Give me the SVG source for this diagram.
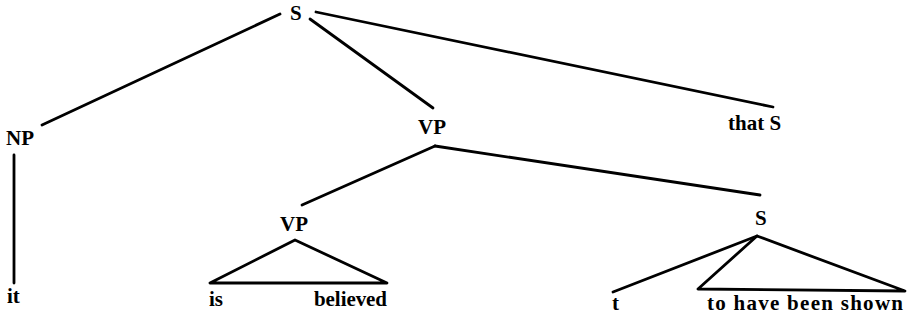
<svg xmlns="http://www.w3.org/2000/svg" width="909" height="320" viewBox="0 0 909 320">
<style>
text{font-family:"Liberation Serif","Times New Roman",serif;font-weight:bold;font-size:21px;fill:#000}
.e{stroke:#000;stroke-width:2.8;fill:none;stroke-linecap:round;stroke-linejoin:round}
</style>
<rect width="909" height="320" fill="#fff"/>
<g id="connectors">
<line class="e" x1="280" y1="14" x2="42" y2="125"/>
<line class="e" x1="310" y1="19" x2="433" y2="108"/>
<line class="e" x1="316" y1="12" x2="773" y2="107"/>
<line class="e" x1="14" y1="155" x2="14" y2="283"/>
<line class="e" x1="435" y1="146" x2="302" y2="205"/>
<line class="e" x1="435" y1="146" x2="760" y2="195"/>
<polygon class="e" points="295,240 210,283 387,283"/>
<line class="e" x1="757" y1="236" x2="613" y2="292"/>
<polygon class="e" points="757,236 698,289 905,291"/>
</g>
<g id="n-S"><text x="290" y="20">S</text></g>
<g id="n-NP"><text x="6" y="145">NP</text></g>
<g id="n-VP"><text x="418" y="134">VP</text></g>
<g id="n-thatS"><text x="728" y="130">that S</text></g>
<g id="n-it"><text x="7" y="303">it</text></g>
<g id="n-VP2"><text x="280" y="231">VP</text></g>
<g id="n-is"><text x="209" y="306">is</text></g>
<g id="n-believed"><text x="314" y="306" textLength="73" lengthAdjust="spacing">believed</text></g>
<g id="n-S2"><text x="755" y="225">S</text></g>
<g id="n-t"><text x="612" y="310">t</text></g>
<g id="n-shown"><text x="707" y="310" textLength="196" lengthAdjust="spacing">to have been shown</text></g>
</svg>
